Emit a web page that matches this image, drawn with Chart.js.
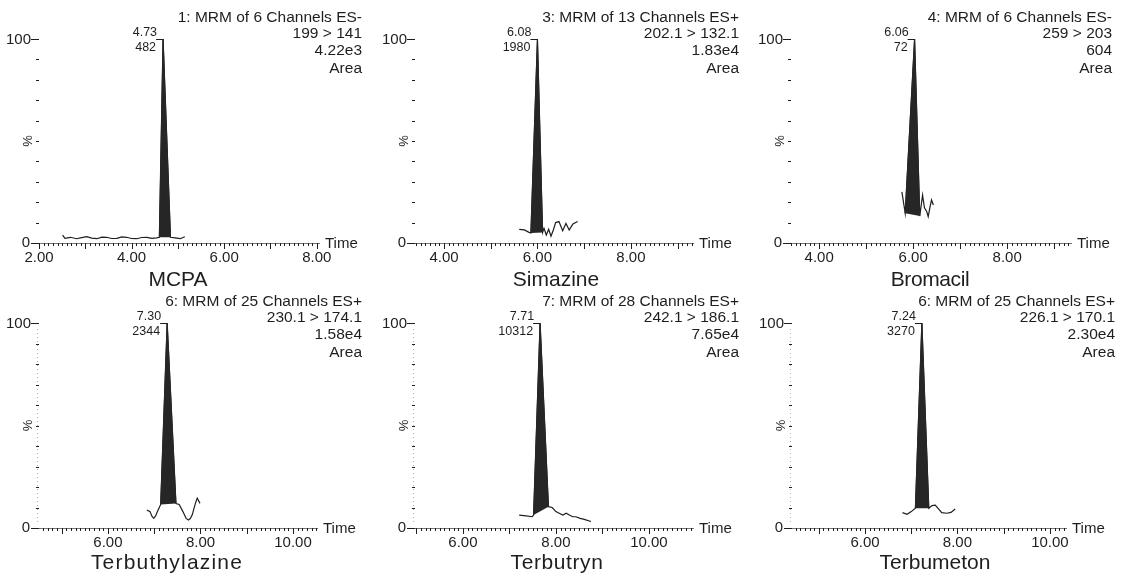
<!DOCTYPE html>
<html>
<head>
<meta charset="utf-8">
<script src="https://cdn.jsdelivr.net/npm/chart.js@4.4.0/dist/chart.umd.min.js"></script>
<style>
  body { margin: 0; background: #fff; }
  #wrap { position: relative; width: 1127px; height: 575px; overflow: hidden; background: #fff; }
  #wrap canvas { position: absolute; }
</style>
</head>
<body>
<div id="wrap"></div>
<script>
// compound names and header text of each trace
const compounds = ["MCPA", "Simazine", "Bromacil", "Terbuthylazine", "Terbutryn", "Terbumeton"];
const headers = [
  ["1: MRM of 6 Channels ES-", "199 > 141", "4.22e3", "Area"],
  ["3: MRM of 13 Channels ES+", "202.1 > 132.1", "1.83e4", "Area"],
  ["4: MRM of 6 Channels ES-", "259 > 203", "604", "Area"],
  ["6: MRM of 25 Channels ES+", "230.1 > 174.1", "1.58e4", "Area"],
  ["7: MRM of 28 Channels ES+", "242.1 > 186.1", "7.65e4", "Area"],
  ["6: MRM of 25 Channels ES+", "226.1 > 170.1", "2.30e4", "Area"]
];
const peakRt = ["4.73", "6.08", "6.06", "7.30", "7.71", "7.24"];
const peakHeight = ["482", "1980", "72", "2344", "10312", "3270"];

// time axis ranges and labelled ticks
const xMin = [2.0, 3.38, 3.40, 4.51, 4.97, 4.42];
const xMax = [8.07, 9.35, 9.38, 10.54, 10.97, 10.37];
const xTickLabels = [[2, 4, 6, 8], [4, 6, 8], [4, 6, 8], [6, 8, 10], [6, 8, 10], [6, 8, 10]];

// traces (time in min, intensity in %)
const mcpaTime = [2.51, 2.56, 2.68, 2.81, 2.92, 3.03, 3.14, 3.25, 3.36, 3.46, 3.57, 3.68, 3.79, 3.89, 4.00, 4.11, 4.22, 4.33, 4.44, 4.54, 4.60, 4.68, 4.84, 4.94, 5.05, 5.15];
const mcpaPct  = [3.9, 2.3, 2.8, 2.1, 2.6, 3.1, 2.4, 2.1, 2.9, 2.8, 2.2, 2.3, 3.0, 2.8, 2.2, 2.1, 2.7, 2.8, 2.3, 2.5, 2.8, 100, 2.8, 2.5, 2.1, 3.1];

const simaTime = [5.61, 5.72, 5.82, 5.86, 6.00, 6.11, 6.14, 6.19, 6.24, 6.29, 6.34, 6.39, 6.46, 6.54, 6.61, 6.68, 6.76, 6.86];
const simaPct  = [6.7, 6.4, 5.2, 4.9, 100, 5.2, 7.2, 3.9, 6.7, 3.3, 6.4, 10.0, 10.5, 6.0, 9.6, 6.4, 9.3, 10.5];

const bromTime = [5.76, 5.83, 6.03, 6.14, 6.20, 6.24, 6.29, 6.32, 6.36, 6.39, 6.43];
const bromPct  = [25.1, 14.6, 100, 13.2, 23.5, 17.2, 15.3, 12.9, 17.8, 21.1, 18.6];

const tbazTime = [6.84, 6.91, 6.95, 6.99, 7.03, 7.07, 7.14, 7.28, 7.47, 7.54, 7.62, 7.69, 7.74, 7.78, 7.82, 7.89, 7.93, 7.99];
const tbazPct  = [8.8, 8.0, 5.8, 4.7, 5.9, 8.0, 11.5, 100, 11.9, 11.5, 8.0, 4.7, 3.9, 4.6, 6.3, 12.0, 14.5, 12.0];

const tbynTime = [7.21, 7.36, 7.49, 7.52, 7.66, 7.84, 7.92, 8.00, 8.07, 8.15, 8.22, 8.29, 8.36, 8.43, 8.52, 8.61, 8.72, 8.75];
const tbynPct  = [6.3, 5.9, 5.5, 6.3, 100, 10.4, 10.0, 8.0, 7.2, 6.3, 7.2, 6.3, 5.5, 5.5, 4.7, 4.2, 3.4, 3.1];

const tbmeTime = [6.81, 6.91, 7.00, 7.09, 7.23, 7.38, 7.45, 7.52, 7.58, 7.66, 7.77, 7.86, 7.95];
const tbmePct  = [7.5, 6.7, 8.0, 9.6, 100, 9.6, 10.9, 11.2, 9.6, 7.5, 7.2, 7.6, 9.3];

// integrated (shaded) region of each peak
const fillStart = [4.60, 5.86, 5.83, 7.14, 7.52, 7.09];
const fillEnd   = [4.84, 6.11, 6.14, 7.47, 7.84, 7.38];

const traceTimes = [mcpaTime, simaTime, bromTime, tbazTime, tbynTime, tbmeTime];
const tracePcts  = [mcpaPct, simaPct, bromPct, tbazPct, tbynPct, tbmePct];

// page layout of the six panels
const panels = [
  { left: 0,   top: 0,   w: 376, h: 290, axisX: 39,  axisEnd: 320,  y100: 39,  y0: 243, nameX: 178, nameY: 286, nameSp: 0,    textRight: 362,  dottedY: false },
  { left: 376, top: 0,   w: 376, h: 290, axisX: 415, axisEnd: 694,  y100: 39,  y0: 243, nameX: 556, nameY: 286, nameSp: 0,    textRight: 739,  dottedY: false },
  { left: 752, top: 0,   w: 375, h: 290, axisX: 791, axisEnd: 1072, y100: 39,  y0: 243, nameX: 930, nameY: 286, nameSp: -0.4, textRight: 1112, dottedY: false },
  { left: 0,   top: 285, w: 376, h: 290, axisX: 39,  axisEnd: 318,  y100: 323, y0: 528, nameX: 167, nameY: 569, nameSp: 1.2,  textRight: 362,  dottedY: true },
  { left: 376, top: 285, w: 376, h: 290, axisX: 415, axisEnd: 694,  y100: 323, y0: 528, nameX: 557, nameY: 569, nameSp: 0.6,  textRight: 739,  dottedY: true },
  { left: 752, top: 285, w: 375, h: 290, axisX: 792, axisEnd: 1067, y100: 323, y0: 528, nameX: 935, nameY: 569, nameSp: 0,    textRight: 1115, dottedY: true }
];

const INK = "#1e1e1e";
const FONT = "'Liberation Sans', Arial, sans-serif";

// draws axes, ticks and all the texts of one chromatogram
const chromPlugin = {
  id: "chrom",
  afterDraw(chart) {
    const i = chart.options.plugins.chrom.index;
    const p = panels[i];
    const ctx = chart.ctx;
    const xs = chart.scales.x, ys = chart.scales.y;
    const ox = p.left, oy = p.top;
    const ax = xs.left, zeroY = ys.getPixelForValue(0), topY = ys.getPixelForValue(100);

    ctx.save();
    ctx.fillStyle = INK;
    ctx.strokeStyle = INK;
    ctx.lineWidth = 1;

    // faint dotted y axis (lower row only)
    if (p.dottedY) {
      ctx.save();
      ctx.strokeStyle = "#b0b0b0";
      ctx.setLineDash([1, 3]);
      ctx.beginPath();
      ctx.moveTo(ax - 1.5, topY + 6);
      ctx.lineTo(ax - 1.5, zeroY - 6);
      ctx.stroke();
      ctx.restore();
    }

    // y axis marks every 10 %
    for (let k = 1; k < 10; k++) {
      const y = Math.round(ys.getPixelForValue(k * 10)) + 0.5;
      ctx.beginPath();
      ctx.moveTo(ax - 3, y);
      ctx.lineTo(ax, y);
      ctx.stroke();
    }
    ctx.beginPath();
    ctx.moveTo(ax - 8, Math.round(topY) + 0.5);
    ctx.lineTo(ax, Math.round(topY) + 0.5);
    ctx.moveTo(ax - 8, Math.round(zeroY) + 0.5);
    ctx.lineTo(ax, Math.round(zeroY) + 0.5);
    ctx.stroke();

    // time axis with minor (0.1) and major (1.0) ticks
    ctx.strokeStyle = "#777";
    ctx.beginPath();
    ctx.moveTo(ax, Math.round(zeroY) + 0.5);
    ctx.lineTo(xs.right, Math.round(zeroY) + 0.5);
    ctx.stroke();
    ctx.strokeStyle = INK;
    const k0 = Math.ceil(xs.min * 10 - 1e-6), k1 = Math.floor(xs.max * 10 + 1e-6);
    for (let k = k0; k <= k1; k++) {
      const x = Math.round(xs.getPixelForValue(k / 10)) + 0.5;
      const len = (k % 10 === 0) ? 6 : 3;
      ctx.beginPath();
      ctx.moveTo(x, zeroY);
      ctx.lineTo(x, zeroY + len);
      ctx.stroke();
    }

    ctx.font = "15px " + FONT;
    ctx.textBaseline = "middle";
    ctx.textAlign = "center";
    xTickLabels[i].forEach(v => {
      ctx.fillText(v.toFixed(2), xs.getPixelForValue(v), zeroY + 15);
    });
    ctx.textAlign = "left";
    ctx.fillText("Time", xs.right + 5, zeroY + 1);
    ctx.textAlign = "right";
    ctx.fillText("100", ax - 8, topY + 1);
    ctx.fillText("0", ax - 9, zeroY);

    // % label
    ctx.save();
    ctx.translate(ax - 11, (topY + zeroY) / 2);
    ctx.rotate(-Math.PI / 2);
    ctx.textAlign = "center";
    ctx.font = "13px " + FONT;
    ctx.fillText("%", 0, 0);
    ctx.restore();

    // header block, right aligned
    ctx.textAlign = "right";
    ctx.font = "15.5px " + FONT;
    [-21, -5, 12, 30].forEach((dy, n) => {
      ctx.fillText(headers[i][n], p.textRight - ox, topY + dy);
    });

    // peak retention time and height
    const times = traceTimes[i], pcts = tracePcts[i];
    const top = pcts.indexOf(Math.max(...pcts));
    const px = xs.getPixelForValue(times[top]);
    const py = ys.getPixelForValue(pcts[top]);
    ctx.beginPath();
    ctx.moveTo(px - 7, Math.round(py) + 0.5);
    ctx.lineTo(px, Math.round(py) + 0.5);
    ctx.stroke();
    ctx.font = "12.5px " + FONT;
    ctx.textBaseline = "alphabetic";
    ctx.fillText(peakRt[i], px - 6, py - 3);
    ctx.fillText(peakHeight[i], px - 7, py + 12);

    // compound name
    ctx.textAlign = "center";
    ctx.font = "21px " + FONT;
    if ("letterSpacing" in ctx) ctx.letterSpacing = p.nameSp + "px";
    ctx.fillText(compounds[i], p.nameX - ox, p.nameY - oy);

    ctx.restore();
  }
};

const wrap = document.getElementById("wrap");

panels.forEach((p, i) => {
  const canvas = document.createElement("canvas");
  canvas.width = p.w;
  canvas.height = p.h;
  canvas.style.left = p.left + "px";
  canvas.style.top = p.top + "px";
  wrap.appendChild(canvas);

  const times = traceTimes[i], pcts = tracePcts[i];
  const trace = times.map((t, n) => ({ x: t, y: pcts[n] }));
  const peak = trace.filter(pt => pt.x >= fillStart[i] - 1e-9 && pt.x <= fillEnd[i] + 1e-9);

  new Chart(canvas, {
    type: "scatter",
    data: {
      datasets: [
        {
          data: peak,
          showLine: true,
          fill: "shape",
          backgroundColor: "#262626",
          borderColor: "#262626",
          borderWidth: 1,
          pointRadius: 0,
          tension: 0,
          clip: false
        },
        {
          data: trace,
          showLine: true,
          fill: false,
          borderColor: INK,
          borderWidth: 1.2,
          pointRadius: 0,
          tension: 0,
          clip: false
        }
      ]
    },
    options: {
      responsive: false,
      animation: false,
      devicePixelRatio: 1,
      events: [],
      layout: {
        padding: {
          left: p.axisX - p.left,
          right: p.left + p.w - p.axisEnd,
          top: p.y100 - p.top,
          bottom: p.top + p.h - p.y0
        }
      },
      scales: {
        x: { type: "linear", min: xMin[i], max: xMax[i], display: false },
        y: { min: 0, max: 100, display: false }
      },
      plugins: {
        legend: { display: false },
        tooltip: { enabled: false },
        chrom: { index: i }
      }
    },
    plugins: [chromPlugin]
  });
});
</script>
</body>
</html>
